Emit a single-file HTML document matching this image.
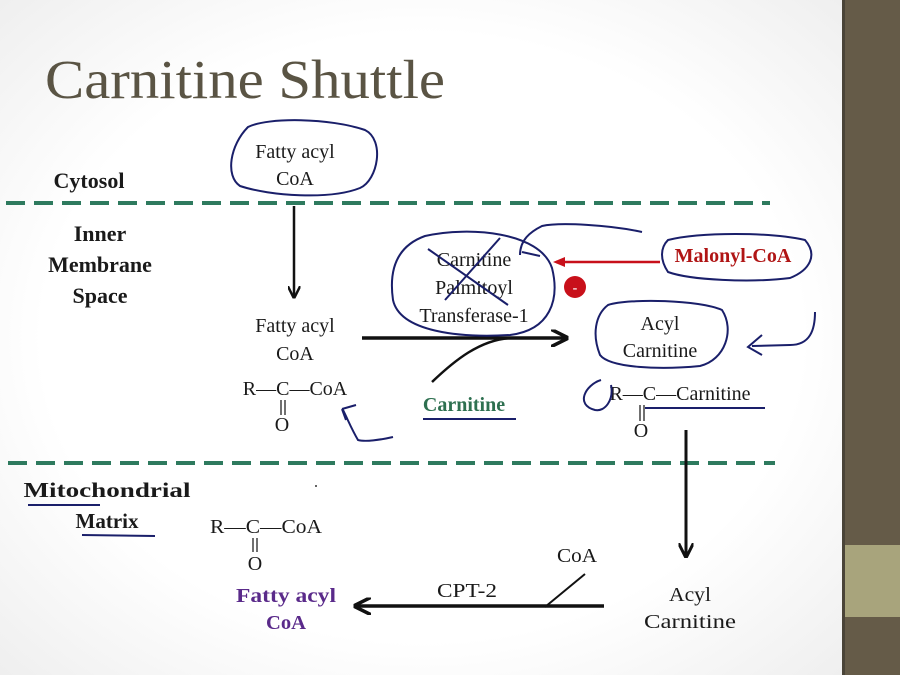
<!DOCTYPE html>
<html><head><meta charset="utf-8"><style>
html,body{margin:0;padding:0;width:900px;height:675px;overflow:hidden;background:#fff}
svg{display:block}
text{font-family:"Liberation Serif",serif}
</style></head><body>
<svg width="900" height="675" viewBox="0 0 900 675" xmlns="http://www.w3.org/2000/svg">
<defs>
<radialGradient id="bg" cx="0.5" cy="0.5" r="0.75"><stop offset="0.6" stop-color="#ffffff"/><stop offset="1" stop-color="#ececec"/></radialGradient>
<marker id="ah" viewBox="0 0 10 10" refX="8" refY="5" markerWidth="5" markerHeight="5" orient="auto"><path d="M0,0 L10,5 L0,10" fill="none" stroke="#111" stroke-width="2"/></marker>
</defs>
<rect x="0" y="0" width="844" height="675" fill="url(#bg)"/>
<rect x="842" y="0" width="3" height="675" fill="#4a4438"/>
<rect x="845" y="0" width="55" height="675" fill="#655b48"/>
<rect x="845" y="545" width="55" height="72" fill="#a8a47c"/>

<text x="45" y="98" font-size="55" fill="#5a5444" textLength="400" lengthAdjust="spacingAndGlyphs">Carnitine Shuttle</text>

<line x1="6" y1="203" x2="770" y2="203" stroke="#2e7a5e" stroke-width="4" stroke-dasharray="19,9"/>
<line x1="8" y1="463" x2="775" y2="463" stroke="#2e7a5e" stroke-width="4" stroke-dasharray="19,9"/>

<g font-weight="bold" font-size="22" fill="#1a1a1a" text-anchor="middle">
<text x="89" y="188">Cytosol</text>
<text x="100" y="241">Inner</text>
<text x="100" y="272">Membrane</text>
<text x="100" y="303">Space</text>
<text x="107" y="497" font-size="21" textLength="167" lengthAdjust="spacingAndGlyphs">Mitochondrial</text>
<text x="107" y="528" font-size="21">Matrix</text>
</g>

<g font-size="20" fill="#1a1a1a" text-anchor="middle">
<text x="295" y="158">Fatty acyl</text>
<text x="295" y="185">CoA</text>
<text x="295" y="332">Fatty acyl</text>
<text x="295" y="360">CoA</text>
<text x="295" y="395">R—C—CoA</text>
<text x="282" y="431">O</text>
<text x="474" y="266">Carnitine</text>
<text x="474" y="294">Palmitoyl</text>
<text x="474" y="322">Transferase-1</text>
<text x="660" y="330">Acyl</text>
<text x="660" y="357">Carnitine</text>
<text x="680" y="400">R—C—Carnitine</text>
<text x="641" y="437">O</text>
</g>
<line x1="281" y1="400" x2="281" y2="415" stroke="#111" stroke-width="1.2"/>
<line x1="285" y1="400" x2="285" y2="415" stroke="#111" stroke-width="1.2"/>
<line x1="640" y1="405" x2="640" y2="421" stroke="#111" stroke-width="1.2"/>
<line x1="644" y1="405" x2="644" y2="421" stroke="#111" stroke-width="1.2"/>

<text x="464" y="411" font-size="20" font-weight="bold" fill="#2e7050" text-anchor="middle">Carnitine</text>
<text x="733" y="262" font-size="20" font-weight="bold" fill="#b01515" text-anchor="middle">Malonyl-CoA</text>
<circle cx="575" cy="287" r="11" fill="#c8101a"/>
<text x="575" y="292" font-size="14" font-weight="bold" fill="#fff" text-anchor="middle">-</text>

<g font-size="20" fill="#1a1a1a" text-anchor="middle">
<text x="266" y="533" textLength="112" lengthAdjust="spacingAndGlyphs">R—C—CoA</text>
<text x="255" y="570">O</text>
<text x="577" y="562" textLength="40" lengthAdjust="spacingAndGlyphs">CoA</text>
<text x="467" y="597" textLength="60" lengthAdjust="spacingAndGlyphs">CPT-2</text>
<text x="690" y="601" textLength="42" lengthAdjust="spacingAndGlyphs">Acyl</text>
<text x="690" y="628" textLength="92" lengthAdjust="spacingAndGlyphs">Carnitine</text>
<text x="286" y="602" font-weight="bold" fill="#5a2a8a" textLength="100" lengthAdjust="spacingAndGlyphs">Fatty acyl</text>
<text x="286" y="629" font-weight="bold" fill="#5a2a8a" textLength="40" lengthAdjust="spacingAndGlyphs">CoA</text>
</g>
<line x1="253" y1="538" x2="253" y2="552" stroke="#111" stroke-width="1.2"/>
<line x1="257" y1="538" x2="257" y2="552" stroke="#111" stroke-width="1.2"/>
<circle cx="316" cy="486" r="1" fill="#333"/>

<line x1="294" y1="206" x2="294" y2="296" stroke="#111" stroke-width="2.5" marker-end="url(#ah)"/>
<line x1="362" y1="338" x2="565" y2="338" stroke="#111" stroke-width="3.5" marker-end="url(#ah)"/>
<path d="M432,382 C455,360 480,340 510,338" fill="none" stroke="#111" stroke-width="2.5"/>
<line x1="686" y1="430" x2="686" y2="555" stroke="#111" stroke-width="3" marker-end="url(#ah)"/>
<line x1="604" y1="606" x2="357" y2="606" stroke="#111" stroke-width="3.5" marker-end="url(#ah)"/>
<line x1="545" y1="607" x2="585" y2="574" stroke="#111" stroke-width="2"/>
<line x1="660" y1="262" x2="556" y2="262" stroke="#c8101a" stroke-width="2.5"/>
<path d="M565,257 L553,262 L565,267" fill="#c8101a"/>

<g fill="none" stroke="#1a1f6a" stroke-width="2">
<path d="M248,127 C268,117 330,118 365,130 C385,140 378,180 360,188 C330,200 270,196 240,186 C225,176 230,145 248,127 Z"/>
<path d="M425,236 C470,226 540,232 552,268 C560,300 550,330 510,335 C460,338 400,332 393,300 C388,265 400,245 425,236 Z"/>
<path d="M428,249 L508,305 M500,238 L445,300"/>
<path d="M520,255 C520,240 530,232 542,226 C560,222 610,225 642,232"/>
<path d="M522,252 L540,256"/>
<path d="M668,240 C700,232 770,232 805,240 C818,255 810,270 790,278 C750,283 690,280 668,272 C660,260 660,248 668,240 Z"/>
<path d="M608,305 C630,298 700,300 722,310 C735,330 725,360 700,366 C660,370 610,368 600,355 C592,335 595,315 608,305 Z"/>
<path d="M815,312 C815,330 810,345 790,345 L752,346 M762,335 L748,347 L762,355"/>
<path d="M601,380 C585,385 575,405 595,410 C605,412 614,400 611,385"/>
<path d="M645,408 L765,408"/>
<path d="M393,437 C380,440 365,442 358,440 C352,430 348,420 343,410 M342,409 L356,405 M342,409 L346,420"/>
<path d="M423,419 L516,419"/>
<path d="M28,505 L100,505 M82,535 L155,536"/>
</g>
</svg>
</body></html>
